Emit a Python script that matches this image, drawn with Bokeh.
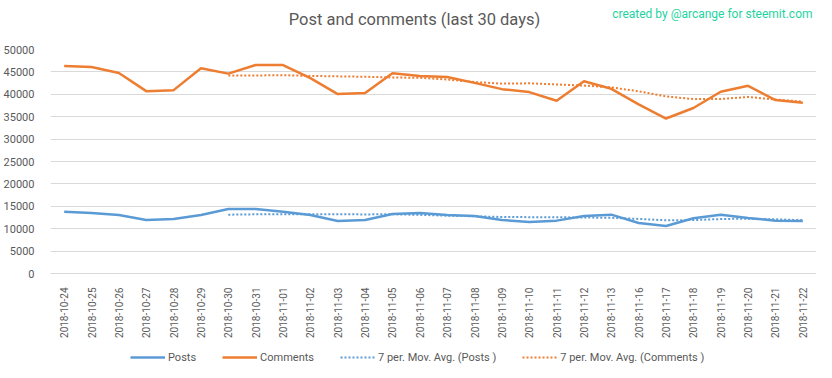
import math
import pandas as pd
from bokeh.plotting import figure
from bokeh.layouts import column
from bokeh.models import Range1d, FactorRange, Legend, LegendItem, Label, SingleIntervalTicker
from bokeh.embed import file_html
from bokeh.resources import INLINE

dates = ["2018-10-24", "2018-10-25", "2018-10-26", "2018-10-27", "2018-10-28", "2018-10-29",
         "2018-10-30", "2018-10-31", "2018-11-01", "2018-11-02", "2018-11-03", "2018-11-04",
         "2018-11-05", "2018-11-06", "2018-11-07", "2018-11-08", "2018-11-09", "2018-11-10",
         "2018-11-11", "2018-11-12", "2018-11-13", "2018-11-16", "2018-11-17", "2018-11-18",
         "2018-11-19", "2018-11-20", "2018-11-21", "2018-11-22"]
posts = [13790, 13500, 13050, 11950, 12170, 13050, 14380, 14380, 13790, 13050, 11730, 11950,
         13270, 13500, 13050, 12830, 11950, 11500, 11800, 12830, 13130, 11280, 10620, 12320,
         13130, 12400, 11800, 11730]
comments = [46300, 46080, 44760, 40700, 40930, 45800, 44620, 46530, 46530, 43600, 40040, 40270,
            44690, 44100, 43880, 42550, 41150, 40490, 38570, 42920, 41230, 37760, 34590, 36950,
            40560, 41890, 38720, 38130]
ma_window = 7
title_text = "Post and comments (last 30 days)"
credit_text = "created by @arcange for steemit.com"
legend_labels = ["Posts", "Comments", "7 per. Mov. Avg. (Posts )", "7 per. Mov. Avg. (Comments )"]

posts_ma = pd.Series(posts).rolling(ma_window).mean()
comments_ma = pd.Series(comments).rolling(ma_window).mean()
ma_dates = dates[ma_window - 1:]

FONT = "Roboto"
GREY = "#595959"
BLUE = "#5B9BD5"
ORANGE = "#ED7D31"
W = 816
HEAD_H = 44

# ---- header (title + credit) ----
head = figure(width=W, height=HEAD_H, x_range=Range1d(0, W), y_range=Range1d(0, HEAD_H),
              output_backend="svg", toolbar_location=None,
              x_axis_location=None, y_axis_location=None, min_border=0)
head.frame_align = False
head.outline_line_color = None
head.grid.grid_line_color = None
head.add_layout(Label(x=414, y=HEAD_H - 19, text=title_text, text_font=FONT, text_font_size="16.5px",
                      text_color=GREY, text_align="center", text_baseline="middle"))
head.add_layout(Label(x=812, y=HEAD_H - 13, text=credit_text, text_font=FONT, text_font_size="12px",
                      text_color="#1ED3A0", text_align="right", text_baseline="middle"))

# ---- main chart ----
p = figure(width=W, height=296, x_range=FactorRange(*dates, range_padding=0),
           y_range=Range1d(0, 50000), output_backend="svg", toolbar_location=None)
p.frame_align = False
p.min_border_left = 50
p.min_border_right = 0
p.min_border_top = 5
p.min_border_bottom = 0
p.outline_line_color = None

r1 = p.line(dates, posts, line_color=BLUE, line_width=2.5)
r2 = p.line(dates, comments, line_color=ORANGE, line_width=2.5)
r3 = p.line(ma_dates, list(posts_ma.dropna()), line_color=BLUE, line_width=2, line_dash="2 2")
r4 = p.line(ma_dates, list(comments_ma.dropna()), line_color=ORANGE, line_width=2, line_dash="2 2")

p.yaxis.ticker = SingleIntervalTicker(interval=5000)
p.yaxis.axis_line_color = None
p.yaxis.major_tick_line_color = None
p.yaxis.minor_tick_line_color = None
p.yaxis.major_label_text_font = FONT
p.yaxis.major_label_text_font_size = "11px"
p.yaxis.major_label_text_color = GREY
p.yaxis.major_label_standoff = 10

p.xaxis.axis_line_color = "#d9d9d9"
p.xaxis.major_tick_line_color = None
p.xaxis.minor_tick_line_color = None
p.xaxis.major_label_orientation = math.pi / 2
p.xaxis.major_label_text_font = FONT
p.xaxis.major_label_text_font_size = "10px"
p.xaxis.major_label_text_color = GREY
p.xaxis.major_label_standoff = 8

p.xgrid.grid_line_color = None
p.ygrid.grid_line_color = "#d9d9d9"

# ---- legend strip ----
leg = figure(width=W, height=36, x_range=Range1d(0, 1), y_range=Range1d(0, 1),
             output_backend="svg", toolbar_location=None,
             x_axis_location=None, y_axis_location=None, min_border=0)
leg.frame_align = False
leg.outline_line_color = None
leg.grid.grid_line_color = None
off = [5, 6]
l1 = leg.line(off, off, line_color=BLUE, line_width=2.5)
l2 = leg.line(off, off, line_color=ORANGE, line_width=2.5)
l3 = leg.line(off, off, line_color=BLUE, line_width=2, line_dash="2 2")
l4 = leg.line(off, off, line_color=ORANGE, line_width=2, line_dash="2 2")
legend = Legend(items=[LegendItem(label=t, renderers=[r]) for t, r in zip(legend_labels, [l1, l2, l3, l4])],
                orientation="horizontal", location=(130, 9))
legend.border_line_color = None
legend.background_fill_alpha = 0
legend.label_text_font = FONT
legend.label_text_font_size = "11px"
legend.label_text_color = GREY
legend.glyph_width = 35
legend.label_standoff = 3
legend.spacing = 26
legend.padding = 2
legend.margin = 0
leg.add_layout(legend)

page = column(head, p, leg, spacing=0)
open("out.html", "w").write(file_html(page, INLINE))
